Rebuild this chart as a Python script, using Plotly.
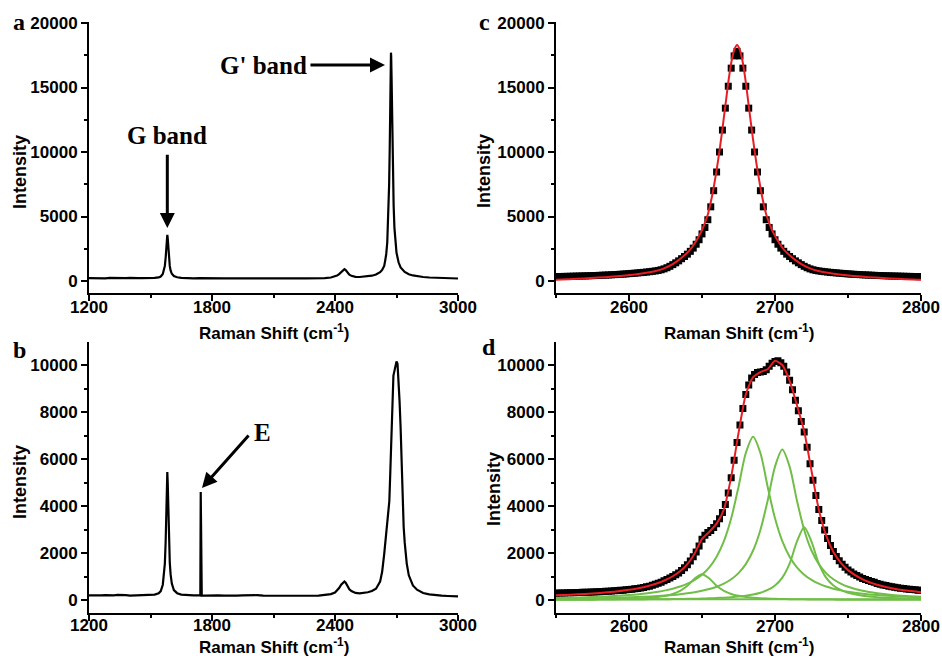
import plotly.graph_objects as go

# ---------------- data ----------------
# Panel a: full spectrum (sample 1)
a_shift = [1200, 1220, 1240, 1260, 1280, 1300, 1320, 1340, 1360, 1380, 1400, 1420, 1440, 1460, 1480, 1500,
           1520, 1540, 1550, 1560, 1566, 1570, 1574, 1577, 1580, 1582, 1584, 1587, 1590, 1594, 1598, 1604,
           1614, 1630, 1650, 1680, 1710, 1740, 1770, 1800, 1830, 1860, 1890, 1920, 1950, 1980, 2000, 2020,
           2050, 2080, 2110, 2140, 2170, 2200, 2230, 2260, 2290, 2320, 2350, 2380, 2400, 2410, 2420, 2430,
           2440, 2446, 2452, 2460, 2470, 2480, 2500, 2520, 2540, 2560, 2580, 2600, 2620, 2630, 2640, 2645,
           2650, 2655, 2660, 2664, 2667, 2670, 2672, 2673, 2674, 2676, 2679, 2682, 2686, 2690, 2695, 2700,
           2710, 2720, 2740, 2760, 2780, 2800, 2830, 2860, 2890, 2920, 2950, 2980, 3000]
a_intensity = [230, 215, 235, 220, 210, 240, 225, 215, 230, 220, 235, 210, 225, 230, 220, 235,
               245, 280, 350, 540, 820, 1170, 1820, 2570, 3320, 3570, 3320, 2520, 1820, 1170, 820, 560,
               380, 290, 250, 220, 210, 225, 205, 215, 210, 200, 215, 205, 210, 220, 235, 220,
               205, 210, 200, 205, 195, 205, 200, 210, 205, 215, 230, 270, 340, 420, 540, 710,
               870, 920, 850, 660, 490, 400, 320, 310, 330, 360, 410, 500, 680, 860, 1170, 1600,
               2100, 3000, 4800, 7450, 10350, 14350, 16950, 17700, 17450, 15750, 12050, 8850, 5850, 4100, 2900, 2200,
               1450, 1050, 700, 520, 430, 370, 310, 270, 245, 225, 215, 200, 195]

# Panel b: full spectrum (sample 2)
b_shift = [1200, 1220, 1240, 1260, 1280, 1300, 1320, 1340, 1360, 1380, 1400, 1420, 1440, 1460, 1480, 1500,
           1520, 1540, 1550, 1560, 1566, 1570, 1574, 1577, 1580, 1582, 1584, 1587, 1590, 1594, 1598, 1604,
           1614, 1630, 1650, 1680, 1710, 1740, 1743, 1745, 1747, 1750, 1770, 1800, 1830, 1860, 1890, 1920,
           1950, 1980, 2000, 2020, 2050, 2080, 2110, 2140, 2170, 2200, 2230, 2260, 2290, 2320, 2350, 2380,
           2400, 2410, 2420, 2430, 2440, 2446, 2452, 2460, 2470, 2480, 2500, 2520, 2540, 2560, 2580, 2600,
           2620, 2630, 2640, 2650, 2660, 2665, 2670, 2675, 2680, 2685, 2690, 2695, 2700, 2705, 2710, 2715,
           2720, 2725, 2730, 2735, 2740, 2750, 2760, 2780, 2800, 2830, 2860, 2890, 2920, 2950, 2980, 3000]
b_intensity = [200, 190, 210, 195, 205, 190, 200, 215, 195, 205, 190, 200, 195, 205, 200, 210,
               230, 290, 380, 650, 1050, 1550, 2500, 3600, 4900, 5450, 5000, 3700, 2600, 1600, 1100, 700,
               420, 290, 230, 205, 195, 200, 190, 4600, 200, 195, 190, 200, 195, 185, 200, 190,
               195, 205, 220, 205, 190, 185, 190, 180, 185, 180, 175, 185, 180, 190, 205, 250,
               320, 400, 510, 650, 760, 790, 740, 600, 460, 380, 300, 280, 290, 330, 380, 480,
               780, 1200, 1950, 2850, 3500, 4200, 5500, 7200, 8800, 9550, 9750, 9900, 10150, 10050, 9450, 8450,
               7350, 5750, 4200, 3100, 2450, 1550, 1050, 620, 440, 300, 240, 200, 185, 170, 160, 155]

# Panels c and d: fine-sampled measured points (black squares)
fine_shift = [2550, 2552, 2554, 2556, 2558, 2560, 2562, 2564, 2566, 2568, 2570, 2572, 2574, 2576, 2578, 2580,
              2582, 2584, 2586, 2588, 2590, 2592, 2594, 2596, 2598, 2600, 2602, 2604, 2606, 2608, 2610, 2612,
              2614, 2616, 2618, 2620, 2622, 2624, 2626, 2628, 2630, 2632, 2634, 2636, 2638, 2640, 2642, 2644,
              2646, 2648, 2650, 2652, 2654, 2656, 2658, 2660, 2662, 2664, 2666, 2668, 2670, 2672, 2674, 2676,
              2678, 2680, 2682, 2684, 2686, 2688, 2690, 2692, 2694, 2696, 2698, 2700, 2702, 2704, 2706, 2708,
              2710, 2712, 2714, 2716, 2718, 2720, 2722, 2724, 2726, 2728, 2730, 2732, 2734, 2736, 2738, 2740,
              2742, 2744, 2746, 2748, 2750, 2752, 2754, 2756, 2758, 2760, 2762, 2764, 2766, 2768, 2770, 2772,
              2774, 2776, 2778, 2780, 2782, 2784, 2786, 2788, 2790, 2792, 2794, 2796, 2798, 2800]

c_intensity = [344, 348, 352, 357, 362, 367, 373, 379, 385, 391, 398, 405, 413, 421, 430, 440,
               450, 460, 470, 482, 495, 508, 522, 537, 553, 570, 590, 608, 627, 648, 670, 695,
               720, 750, 780, 820, 870, 940, 1030, 1140, 1270, 1410, 1560, 1730, 1900, 2080, 2300, 2550,
               2850, 3200, 3650, 4150, 4750, 5750, 7000, 8450, 10000, 11700, 13400, 15100, 16500, 17450, 17800, 17450,
               16500, 15100, 13400, 11700, 10000, 8450, 7000, 5750, 4750, 4150, 3650, 3200, 2850, 2550, 2300, 2080,
               1900, 1730, 1560, 1410, 1270, 1140, 1030, 940, 870, 820, 780, 750, 720, 695, 670, 648,
               627, 608, 590, 570, 553, 537, 522, 508, 495, 482, 470, 460, 450, 440, 430, 421,
               413, 405, 398, 391, 385, 379, 373, 367, 362, 357, 352, 348, 344, 340]

d_intensity = [290, 295, 300, 300, 305, 310, 312, 318, 322, 325, 330, 335, 338, 345, 350, 355,
               362, 368, 375, 382, 390, 400, 410, 420, 432, 445, 460, 475, 492, 510, 530, 560,
               590, 625, 665, 710, 760, 815, 870, 935, 1000, 1070, 1150, 1250, 1370, 1500, 1660, 1840,
               2040, 2300, 2580, 2760, 2870, 2960, 3080, 3250, 3460, 3720, 4060, 4550, 5200, 5950, 6700, 7450,
               8150, 8750, 9150, 9450, 9600, 9680, 9700, 9720, 9800, 9950, 10080, 10150, 10180, 10100, 9950, 9700,
               9350, 8950, 8500, 8050, 7600, 7150, 6500, 5800, 5100, 4450, 3850, 3380, 2980, 2620, 2320, 2060,
               1850, 1670, 1520, 1390, 1280, 1190, 1110, 1040, 980, 920, 870, 825, 785, 750, 700, 670,
               640, 615, 590, 568, 545, 525, 505, 488, 472, 458, 444, 432, 420, 410]

# Panel c: single-peak fit (red)
c_fit_shift = [2550, 2554, 2564, 2574, 2584, 2594, 2604, 2614, 2619, 2624, 2629, 2634, 2636, 2638, 2640, 2642,
               2644, 2646, 2648, 2650, 2652, 2654, 2656, 2658, 2660, 2662, 2664, 2666, 2668, 2670, 2672, 2674,
               2676, 2678, 2680, 2682, 2684, 2686, 2688, 2690, 2692, 2694, 2696, 2698, 2700, 2702, 2704, 2706,
               2708, 2710, 2712, 2714, 2719, 2724, 2729, 2734, 2744, 2754, 2764, 2774, 2784, 2794, 2800]
c_fit = [95, 110, 170, 230, 300, 390, 500, 680, 800, 980, 1250, 1620, 1800, 2000, 2200, 2450,
         2750, 3100, 3500, 3950, 4500, 5150, 6100, 7250, 8600, 10100, 11800, 13600, 15400, 16900, 17900, 18300,
         17900, 16900, 15400, 13600, 11800, 10100, 8600, 7250, 6100, 5150, 4500, 3950, 3500, 3100, 2750, 2450,
         2200, 2000, 1800, 1620, 1250, 980, 800, 680, 500, 390, 300, 230, 170, 110, 90]

# Panel d: four-component fit (green) and total fit (red)
d_fit_shift = [2550, 2560, 2570, 2580, 2590, 2600, 2610, 2620, 2625, 2630, 2635, 2640, 2645, 2650, 2655, 2660,
               2665, 2670, 2675, 2680, 2685, 2690, 2695, 2700, 2705, 2710, 2715, 2720, 2725, 2730, 2735, 2740,
               2745, 2750, 2760, 2770, 2780, 2790, 2800]
d_comp1 = [13, 16, 20, 27, 36, 51, 77, 130, 178, 255, 385, 602, 912, 1100, 912, 602,
           385, 255, 178, 130, 99, 77, 62, 51, 42, 36, 31, 27, 23, 20, 18, 16,
           15, 13, 11, 9, 8, 7, 6]
d_comp2 = [85, 99, 116, 139, 169, 210, 267, 351, 409, 481, 574, 695, 857, 1079, 1390, 1840,
           2502, 3475, 4812, 6255, 6950, 6255, 4812, 3475, 2502, 1840, 1390, 1079, 857, 695, 574, 481,
           409, 351, 267, 210, 169, 139, 116]
d_comp3 = [52, 59, 68, 79, 93, 112, 136, 169, 190, 215, 246, 284, 330, 390, 465, 565,
           699, 883, 1145, 1527, 2105, 2980, 4238, 5676, 6400, 5676, 4238, 2980, 2105, 1527, 1145, 883,
           699, 565, 390, 284, 215, 169, 136]
d_comp4 = [11, 12, 14, 16, 18, 21, 25, 31, 34, 38, 42, 48, 54, 62, 72, 84,
           99, 119, 146, 182, 234, 310, 428, 620, 954, 1550, 2480, 3100, 2480, 1550, 954, 620,
           428, 310, 182, 119, 84, 62, 48]
d_baseline_shift = [2550, 2800]
d_baseline = [30, 30]
d_fit = [200, 226, 258, 300, 356, 434, 545, 721, 851, 1010, 1220, 1530, 1980, 2600, 2900, 3250,
         3850, 5250, 7100, 8750, 9480, 9700, 9820, 10180, 10000, 9330, 8300, 7180, 5500, 3850, 2750, 2040,
         1590, 1270, 880, 650, 500, 400, 330]

# tick definitions
wide_ticks = [1200, 1800, 2400, 3000]
narrow_ticks = [2600, 2700, 2800]

# ---------------- figure ----------------
W, H = 942, 658


def fx(p):
    return p / W


def fy(p):
    return 1 - p / H


TICKFONT = dict(family="Arial, Liberation Sans", size=17, color="black", weight="bold")
BLACK = "black"
RED = "rgb(232,30,36)"
GREEN = "rgb(112,190,72)"


def xaxis(domain, rng, tickvals, minor_tick0, minor_dtick, anchor, standoff):
    return dict(domain=domain, range=rng, anchor=anchor, tickmode="array", tickvals=tickvals,
                tickformat="d", ticks="outside", ticklen=6, tickwidth=2, tickcolor=BLACK,
                showline=True, linewidth=2, linecolor=BLACK, showgrid=False, zeroline=False,
                tickfont=TICKFONT, automargin=False, ticklabelstandoff=standoff,
                minor=dict(ticks="outside", ticklen=3, tickwidth=1.5, tickcolor=BLACK,
                           tickmode="linear", tick0=minor_tick0, dtick=minor_dtick, showgrid=False))


def yaxis(domain, rng, dtick, minor_dtick, anchor):
    return dict(domain=domain, range=rng, anchor=anchor, tickmode="linear", tick0=0, dtick=dtick,
                tickformat="d", ticks="outside", ticklen=6, tickwidth=2, tickcolor=BLACK,
                showline=True, linewidth=2, linecolor=BLACK, showgrid=False, zeroline=False,
                tickfont=TICKFONT, automargin=False,
                minor=dict(ticks="outside", ticklen=3, tickwidth=1.5, tickcolor=BLACK,
                           tickmode="linear", tick0=0, dtick=minor_dtick, showgrid=False))


left_dom = [fx(89), fx(458)]
right_dom = [fx(556), fx(921)]
top_dom = [fy(293), fy(22)]
bot_dom = [fy(612.5), fy(342)]

fig = go.Figure()

# panel a
fig.add_trace(go.Scatter(x=a_shift, y=a_intensity, mode="lines",
                         line=dict(color=BLACK, width=2.2), xaxis="x", yaxis="y"))
# panel c
fig.add_trace(go.Scatter(x=fine_shift, y=c_intensity, mode="markers",
                         marker=dict(symbol="square", size=7, color=BLACK, line=dict(width=0)),
                         xaxis="x2", yaxis="y2"))
fig.add_trace(go.Scatter(x=c_fit_shift, y=c_fit, mode="lines",
                         line=dict(color=RED, width=2, shape="spline", smoothing=0.6),
                         xaxis="x2", yaxis="y2"))
# panel b
fig.add_trace(go.Scatter(x=b_shift, y=b_intensity, mode="lines",
                         line=dict(color=BLACK, width=2.2), xaxis="x3", yaxis="y3"))
# panel d
fig.add_trace(go.Scatter(x=fine_shift, y=d_intensity, mode="markers",
                         marker=dict(symbol="square", size=7, color=BLACK, line=dict(width=0)),
                         xaxis="x4", yaxis="y4"))
for comp in (d_comp1, d_comp2, d_comp3, d_comp4):
    fig.add_trace(go.Scatter(x=d_fit_shift, y=comp, mode="lines",
                             line=dict(color=GREEN, width=2, shape="spline", smoothing=0.8),
                             xaxis="x4", yaxis="y4"))
fig.add_trace(go.Scatter(x=d_baseline_shift, y=d_baseline, mode="lines",
                         line=dict(color=GREEN, width=2), xaxis="x4", yaxis="y4"))
fig.add_trace(go.Scatter(x=d_fit_shift, y=d_fit, mode="lines",
                         line=dict(color=RED, width=2, shape="spline", smoothing=0.6),
                         xaxis="x4", yaxis="y4"))

fig.update_layout(
    width=W, height=H, margin=dict(l=0, r=0, t=0, b=0, autoexpand=False),
    paper_bgcolor="white", plot_bgcolor="white", showlegend=False,
    xaxis=xaxis(left_dom, [1200, 3000], wide_ticks, 1200, 300, "y", -8),
    yaxis=yaxis(top_dom, [-930, 20078], 5000, 2500, "x"),
    xaxis2=xaxis(right_dom, [2550, 2800], narrow_ticks, 2550, 50, "y2", -8),
    yaxis2=yaxis(top_dom, [-930, 20078], 5000, 2500, "x2"),
    xaxis3=xaxis(left_dom, [1200, 3000], wide_ticks, 1200, 300, "y3", -10),
    yaxis3=yaxis(bot_dom, [-532, 10979], 2000, 1000, "x3"),
    xaxis4=xaxis(right_dom, [2550, 2800], narrow_ticks, 2550, 50, "y4", -9),
    yaxis4=yaxis(bot_dom, [-532, 10979], 2000, 1000, "x4"),
)

YTITLEFONT = dict(family="Arial, Liberation Sans", size=18, color="black", weight="bold")
XTITLEFONT = dict(family="Arial, Liberation Sans", size=17, color="black", weight="bold")
SERIF = dict(family="Liberation Serif, Times New Roman", size=25, color="black", weight="bold")
LETTER = dict(family="Liberation Serif, Times New Roman", size=24, color="black", weight="bold")

ann = []
# axis titles
for (x, y) in [(20, 172), (484, 171), (20, 482), (494, 489)]:
    ann.append(dict(text="Intensity", x=fx(x), y=fy(y), xref="paper", yref="paper", showarrow=False,
                    textangle=-90, font=YTITLEFONT, xanchor="center", yanchor="middle"))
for (x, y) in [(273.5, 332), (738.5, 332), (273.5, 646), (738.5, 646)]:
    ann.append(dict(text="Raman Shift (cm<sup>-1</sup>)", x=fx(x), y=fy(y), xref="paper", yref="paper",
                    showarrow=False, font=XTITLEFONT, xanchor="center", yanchor="middle"))
# panel letters
for (t, x, y) in [("a", 19, 22), ("c", 484, 22), ("b", 19, 350), ("d", 489, 347)]:
    ann.append(dict(text=t, x=fx(x), y=fy(y), xref="paper", yref="paper", showarrow=False,
                    font=LETTER, xanchor="center", yanchor="middle"))
# band labels
ann.append(dict(text="G band", x=fx(167), y=fy(135), xref="paper", yref="paper", showarrow=False,
                font=SERIF, xanchor="center", yanchor="middle"))
ann.append(dict(text="G' band", x=fx(263), y=fy(65), xref="paper", yref="paper", showarrow=False,
                font=SERIF, xanchor="center", yanchor="middle"))
ann.append(dict(text="E", x=fx(262), y=fy(432), xref="paper", yref="paper", showarrow=False,
                font=SERIF, xanchor="center", yanchor="middle"))
# arrows
arrow_style = dict(text="", showarrow=True, arrowhead=2, arrowsize=1, arrowwidth=3, arrowcolor=BLACK,
                   standoff=0, startstandoff=0)
ann.append(dict(x=1582, y=4100, ax=1582, ay=9900, xref="x", yref="y", axref="x", ayref="y", **arrow_style))
ann.append(dict(x=2644, y=16750, ax=2273, ay=16750, xref="x", yref="y", axref="x", ayref="y", **arrow_style))
ann.append(dict(x=1751, y=4766, ax=1985, ay=7064, xref="x3", yref="y3", axref="x3", ayref="y3", **arrow_style))

fig.update_layout(annotations=ann)
fig.write_html("out.html")
